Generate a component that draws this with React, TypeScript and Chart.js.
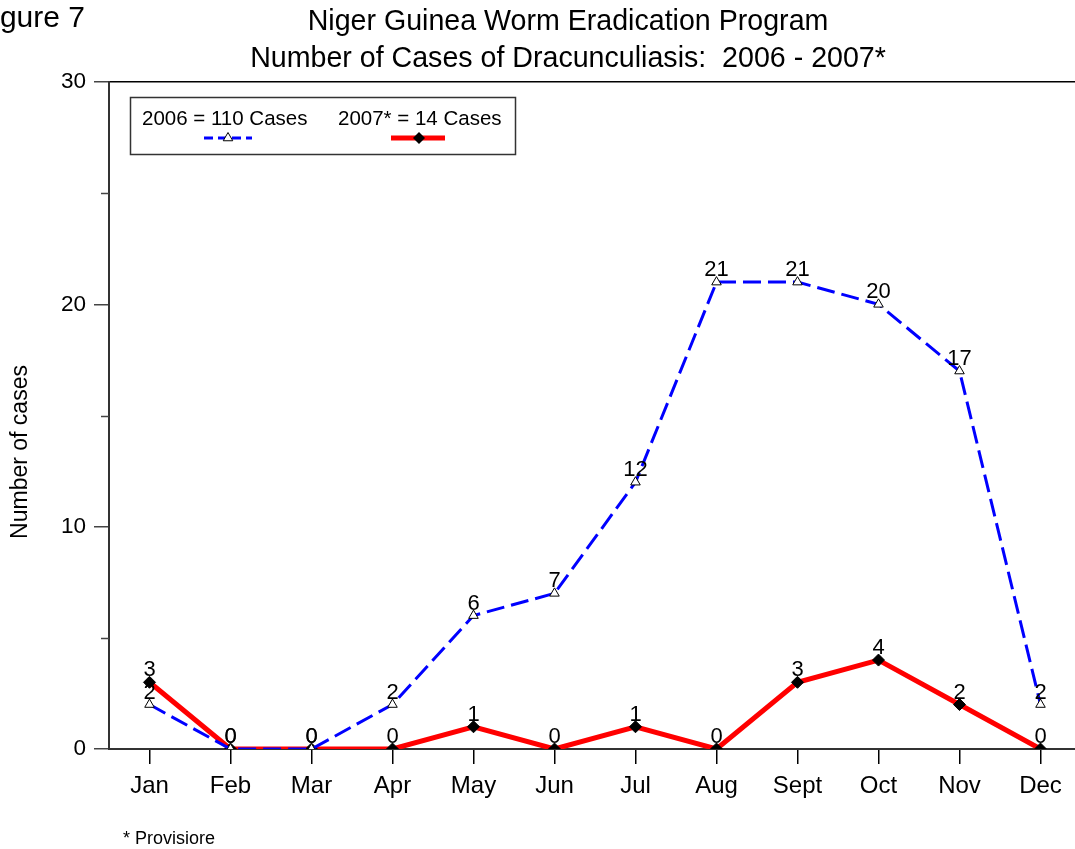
import React, { useEffect, useRef } from 'react';
import { Chart, registerables } from 'chart.js';

Chart.register(...registerables);

const months = ['Jan', 'Feb', 'Mar', 'Apr', 'May', 'Jun', 'Jul', 'Aug', 'Sept', 'Oct', 'Nov', 'Dec'];
const cases2006 = [2, 0, 0, 2, 6, 7, 12, 21, 21, 20, 17, 2];
const cases2007 = [3, 0, 0, 0, 1, 0, 1, 0, 3, 4, 2, 0];
const yTicks = [0, 5, 10, 15, 20, 25, 30];
const titleLines = ['Niger Guinea Worm Eradication Program', 'Number of Cases of Dracunculiasis:  2006 - 2007*'];
const legendLabels = ['2006 = 110 Cases', '2007* = 14 Cases'];
const yTitle = 'Number of cases';
const figureLabel = 'Figure 7';
const footnote = '* Provisiore';

const FONT = "'Liberation Sans', Arial, Helvetica, sans-serif";
const BLUE = '#0000FF';
const RED = '#FF0000';

function drawTriangle(ctx: CanvasRenderingContext2D, x: number, y: number, r: number) {
  ctx.beginPath();
  for (let k = 0; k < 3; k++) {
    const a = (k * 2 * Math.PI) / 3;
    const px = x + Math.sin(a) * r;
    const py = y - Math.cos(a) * r;
    if (k === 0) ctx.moveTo(px, py);
    else ctx.lineTo(px, py);
  }
  ctx.closePath();
  ctx.fillStyle = '#fff';
  ctx.fill();
  ctx.strokeStyle = '#000';
  ctx.lineWidth = 1;
  ctx.setLineDash([]);
  ctx.stroke();
}

function drawDiamond(ctx: CanvasRenderingContext2D, x: number, y: number, r: number) {
  ctx.beginPath();
  ctx.moveTo(x, y - r);
  ctx.lineTo(x + r, y);
  ctx.lineTo(x, y + r);
  ctx.lineTo(x - r, y);
  ctx.closePath();
  ctx.fillStyle = '#000';
  ctx.fill();
}

const decorPlugin = {
  id: 'decor',
  afterDatasetsDraw(chart: any) {
    const ctx: CanvasRenderingContext2D = chart.ctx;
    ctx.save();
    ctx.font = `22px ${FONT}`;
    ctx.fillStyle = '#000';
    ctx.textAlign = 'center';
    ctx.textBaseline = 'alphabetic';
    chart.data.datasets.forEach((ds: any, di: number) => {
      const meta = chart.getDatasetMeta(di);
      meta.data.forEach((pt: any, i: number) => {
        ctx.fillText(String(ds.data[i].y), pt.x, pt.y - 6);
      });
    });
    ctx.restore();
  },
  afterDraw(chart: any) {
    const ctx: CanvasRenderingContext2D = chart.ctx;
    const ys = chart.scales.y;
    ctx.save();
    // minor ticks
    ctx.strokeStyle = '#444';
    ctx.lineWidth = 1.5;
    yTicks.forEach((v) => {
      if (v % 10 !== 0) {
        const py = Math.round(ys.getPixelForValue(v)) + 0.5;
        ctx.beginPath();
        ctx.moveTo(ys.right - 8, py);
        ctx.lineTo(ys.right, py);
        ctx.stroke();
      }
    });

    // titles
    ctx.fillStyle = '#000';
    ctx.textBaseline = 'alphabetic';
    ctx.textAlign = 'center';
    ctx.font = `28.6px ${FONT}`;
    ctx.fillText(titleLines[0], 568, 30);
    ctx.fillText(titleLines[1], 568, 67);

    ctx.textAlign = 'right';
    ctx.font = `30px ${FONT}`;
    ctx.fillText(figureLabel, 85, 27);

    ctx.textAlign = 'left';
    ctx.font = `18px ${FONT}`;
    ctx.fillText(footnote, 123, 844);

    // y title
    ctx.save();
    ctx.translate(21, 452);
    ctx.rotate(-Math.PI / 2);
    ctx.textAlign = 'center';
    ctx.textBaseline = 'middle';
    ctx.font = `23px ${FONT}`;
    ctx.fillText(yTitle, 0, 0);
    ctx.restore();

    // legend
    ctx.strokeStyle = '#333';
    ctx.lineWidth = 1.5;
    ctx.strokeRect(130.5, 97.5, 385, 57);
    ctx.font = `20.5px ${FONT}`;
    ctx.textAlign = 'left';
    ctx.fillStyle = '#000';
    ctx.fillText(legendLabels[0], 142, 125);
    ctx.fillText(legendLabels[1], 338, 125);

    const ly = 138;
    ctx.strokeStyle = BLUE;
    ctx.lineWidth = 3;
    ctx.setLineDash([9, 5]);
    ctx.beginPath();
    ctx.moveTo(204, ly);
    ctx.lineTo(252, ly);
    ctx.stroke();
    ctx.setLineDash([]);
    drawTriangle(ctx, 228, ly, 5.5);

    ctx.strokeStyle = RED;
    ctx.lineWidth = 5;
    ctx.beginPath();
    ctx.moveTo(391, ly);
    ctx.lineTo(445, ly);
    ctx.stroke();
    drawDiamond(ctx, 419, ly, 6);
    ctx.restore();
  },
};

const CANVAS_W = 1082;

export default function App() {
  const ref = useRef<HTMLCanvasElement>(null);
  useEffect(() => {
    const canvas = ref.current!;
    Chart.defaults.font.family = FONT;
    Chart.defaults.color = '#000';
    const chart = new Chart(canvas, {
      type: 'line',
      data: {
        datasets: [
          {
            label: legendLabels[0],
            data: cases2006.map((y, i) => ({ x: i, y })),
            borderColor: BLUE,
            borderWidth: 3,
            borderDash: [18, 7],
            pointStyle: 'triangle',
            pointRadius: 5.5,
            pointBackgroundColor: '#fff',
            pointBorderColor: '#000',
            pointBorderWidth: 1,
            tension: 0,
            fill: false,
            clip: 0,
          } as any,
          {
            label: legendLabels[1],
            data: cases2007.map((y, i) => ({ x: i, y })),
            borderColor: RED,
            borderWidth: 5,
            pointStyle: 'rectRot',
            pointRadius: 6,
            pointBackgroundColor: '#000',
            pointBorderColor: '#000',
            pointBorderWidth: 1,
            tension: 0,
            fill: false,
            clip: 0,
          } as any,
        ],
      },
      options: {
        responsive: false,
        animation: false,
        devicePixelRatio: 1,
        layout: { padding: { top: 82, left: 0, right: 0, bottom: 0 } },
        plugins: {
          legend: { display: false },
          tooltip: { enabled: false },
          title: { display: false },
        },
        scales: {
          x: {
            type: 'linear',
            min: -0.5,
            max: 11.426,
            afterBuildTicks: (s: any) => {
              s.ticks = months.map((_, i) => ({ value: i }));
            },
            afterFit: (s: any) => {
              s.height = 100;
            },
            ticks: {
              callback: (v: any) => months[v] ?? '',
              font: { size: 24 },
              color: '#000',
              padding: 8,
              autoSkip: false,
              maxRotation: 0,
            },
            grid: { drawOnChartArea: false, tickLength: 15, color: '#000', lineWidth: 1.5 },
            border: { color: '#333', width: 2 },
          },
          y: {
            min: 0,
            max: 30,
            afterBuildTicks: (s: any) => {
              s.ticks = yTicks.map((v) => ({ value: v }));
            },
            afterFit: (s: any) => {
              s.width = 109;
            },
            ticks: {
              callback: (v: any) => (v % 10 === 0 ? String(v) : ''),
              font: { size: 22.5 },
              color: '#000',
              padding: 8,
            },
            grid: {
              drawOnChartArea: true,
              color: (c: any) => (c.tick && c.tick.value === 30 ? '#000' : 'transparent'),
              tickColor: (c: any) => (c.tick && c.tick.value % 10 === 0 ? '#444' : 'transparent'),
              tickLength: 15,
              lineWidth: 1.5,
            },
            border: { color: '#333', width: 2 },
          },
        } as any,
      },
      plugins: [decorPlugin],
    });
    return () => chart.destroy();
  }, []);
  return (
    <div
      style={{
        position: 'fixed',
        left: 0,
        top: 0,
        width: 1075,
        height: 849,
        overflow: 'hidden',
        background: '#fff',
      }}
    >
      <canvas ref={ref} width={CANVAS_W} height={849} style={{ display: 'block' }} />
    </div>
  );
}
